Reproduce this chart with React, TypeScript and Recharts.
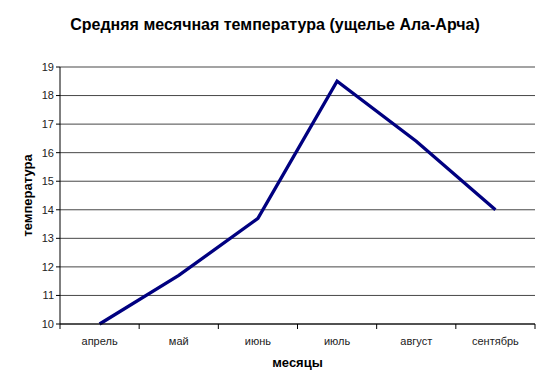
import React from 'react';
import { LineChart, Line, XAxis, YAxis, CartesianGrid, Label } from 'recharts';

const months = ['апрель', 'май', 'июнь', 'июль', 'август', 'сентябрь'];
const temperature = [10, 11.7, 13.7, 18.5, 16.4, 14.0];
const yTicks = [10, 11, 12, 13, 14, 15, 16, 17, 18, 19];

const data = months.map((month, i) => ({ month, t: temperature[i] }));

const FONT = '"Liberation Sans", Arial, sans-serif';
const W = 550;
const H = 389;
const PLOT_LEFT = 60;
const PLOT_RIGHT = 15;
const HALF_BAND = (W - PLOT_LEFT - PLOT_RIGHT) / months.length / 2;

const MonthTick = (props: any) => {
  const { x, y, payload, index } = props;
  const last = index === months.length - 1;
  return (
    <g>
      <line x1={x - HALF_BAND} y1={y - 8} x2={x - HALF_BAND} y2={y - 3} stroke="#000" />
      {last && <line x1={x + HALF_BAND} y1={y - 8} x2={x + HALF_BAND} y2={y - 3} stroke="#000" />}
      <text x={x} y={y + 13} textAnchor="middle" fontSize={11} fill="#222" fontFamily={FONT}>
        {payload.value}
      </text>
    </g>
  );
};

const App = () => {
  return (
    <div style={{ width: W, height: H, margin: -8, position: 'relative', background: '#fff' }}>
      <div
        style={{
          position: 'absolute',
          top: 16,
          left: 0,
          width: W,
          textAlign: 'center',
          fontFamily: FONT,
          fontWeight: 'bold',
          fontSize: 16,
          color: '#000',
        }}
      >
        Средняя месячная температура (ущелье Ала-Арча)
      </div>
      <LineChart width={W} height={H} data={data} margin={{ top: 67, right: PLOT_RIGHT, bottom: 0, left: 0 }}>
        <CartesianGrid vertical={false} stroke="#333" strokeOpacity={0.9} />
        <XAxis
          dataKey="month"
          height={65}
          stroke="#000"
          tickLine={false}
          padding={{ left: HALF_BAND, right: HALF_BAND }}
          interval={0}
          tick={<MonthTick />}
        >
          <Label
            value="месяцы"
            position="insideBottom"
            offset={22}
            style={{ fontFamily: FONT, fontWeight: 'bold', fontSize: 13, fill: '#000' }}
          />
        </XAxis>
        <YAxis
          width={PLOT_LEFT}
          domain={[10, 19]}
          ticks={yTicks}
          stroke="#000"
          tickSize={4}
          tick={{ fontSize: 11, fill: '#222', fontFamily: FONT }}
        >
          <Label
            value="температура"
            angle={-90}
            position="insideLeft"
            offset={27}
            style={{ textAnchor: 'middle', fontFamily: FONT, fontWeight: 'bold', fontSize: 13, fill: '#000' }}
          />
        </YAxis>
        <Line
          type="linear"
          dataKey="t"
          stroke="#000080"
          strokeWidth={3.3}
          dot={false}
          isAnimationActive={false}
        />
      </LineChart>
    </div>
  );
};

export default App;
